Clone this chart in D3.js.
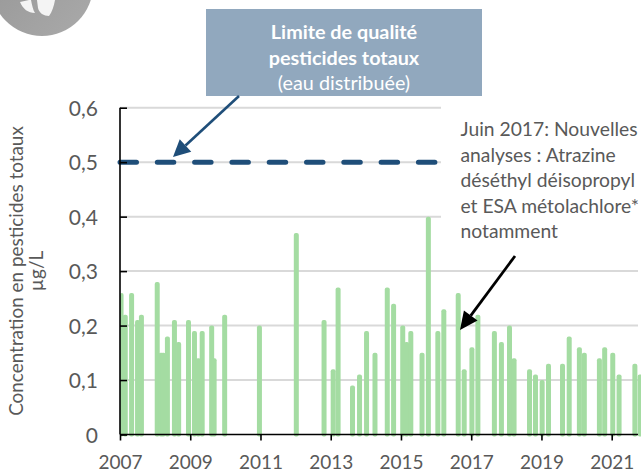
<!DOCTYPE html>
<html><head><meta charset="utf-8">
<script src="https://cdn.jsdelivr.net/npm/d3@7/dist/d3.min.js"></script>
<style>html,body{margin:0;padding:0;background:#fff}svg{display:block}text{font-family:Lato,"Open Sans",sans-serif}</style>
</head><body><svg id="c" width="641" height="474"></svg>
<script>
const sampleDates=[2007.03,2007.15,2007.33,2007.50,2007.61,2008.06,2008.17,2008.23,2008.35,2008.55,2008.67,2008.95,2009.12,2009.23,2009.34,2009.61,2009.68,2009.98,2010.97,2012.02,2012.81,2013.07,2013.21,2013.62,2013.82,2014.02,2014.26,2014.61,2014.79,2015.05,2015.16,2015.28,2015.60,2015.78,2016.05,2016.22,2016.63,2016.80,2017.02,2017.19,2017.66,2017.86,2018.09,2018.22,2018.66,2018.83,2019.02,2019.20,2019.60,2019.79,2020.08,2020.22,2020.65,2020.80,2021.03,2021.21,2021.66,2021.81];
const concentrations=[0.26,0.22,0.26,0.21,0.22,0.28,0.15,0.15,0.18,0.21,0.17,0.21,0.19,0.14,0.19,0.20,0.14,0.22,0.20,0.37,0.21,0.12,0.27,0.09,0.11,0.19,0.15,0.27,0.24,0.20,0.17,0.19,0.15,0.40,0.19,0.23,0.26,0.12,0.16,0.22,0.19,0.17,0.20,0.14,0.12,0.11,0.10,0.13,0.13,0.18,0.16,0.15,0.14,0.16,0.15,0.11,0.13,0.11];
const yTicks=[0,0.1,0.2,0.3,0.4,0.5,0.6];
const xTicks=[2007,2009,2011,2013,2015,2017,2019,2021];
const limitValue=0.5;
const limitBoxLines=["Limite de qualité","pesticides totaux","(eau distribuée)"];
const noteLines=["Juin 2017: Nouvelles","analyses : Atrazine","déséthyl déisopropyl","et ESA métolachlore*","notamment"];
const yTitleLines=["Concentration en pesticides totaux","µg/L"];

const svg=d3.select("#c");
const x=d3.scaleLinear().domain([2007,2021]).range([120,611.7]);
const y=d3.scaleLinear().domain([0,0.6]).range([434.5,107.7]);
const grey="#595959";

// logo
const defs=svg.append("defs");
const lg=defs.append("linearGradient").attr("id","lg").attr("x1",0).attr("y1",0).attr("x2",1).attr("y2",1);
lg.append("stop").attr("offset",0).attr("stop-color","#949494");
lg.append("stop").attr("offset",1).attr("stop-color","#aaaaaa");
svg.append("circle").attr("cx",42).attr("cy",-15).attr("r",51).attr("fill","url(#lg)");
svg.append("path").attr("d","M20 2 L29 0 L31 0 C32 5 33 10 35 13 C28 13 23 9 20 2Z M37 0 L55 0 C54 6 52 12 49 16 C44 16 39 13 38 8Z").attr("fill","#f4f4f4");

// grid
svg.append("g").selectAll("line").data(yTicks.slice(1)).join("line")
 .attr("x1",120).attr("x2",638).attr("y1",d=>y(d)).attr("y2",d=>y(d))
 .attr("stroke","#d9d9d9").attr("stroke-width",2);
// white note background hides upper gridlines
svg.append("rect").attr("x",441).attr("y",100).attr("width",200).attr("height",165).attr("fill","#fff");

// bars
svg.append("g").selectAll("rect").data(sampleDates).join("rect")
 .attr("x",d=>Math.max(x(d)-2.5,120)).attr("width",d=>x(d)-2.5<120?x(d)+2.5-120:5)
 .attr("y",(d,i)=>y(concentrations[i])).attr("height",(d,i)=>y(0)-y(concentrations[i])+2)
 .attr("rx",2).attr("fill","#a4dca2");

// limit line
svg.append("line").attr("x1",x(2007)).attr("x2",439).attr("y1",y(limitValue)).attr("y2",y(limitValue))
 .attr("stroke","#1f4e79").attr("stroke-width",5).attr("stroke-linecap","round")
 .attr("stroke-dasharray","16.5 20.8");

// axes
const yAxis=d3.axisLeft(y).tickValues(yTicks).tickSize(-7).tickPadding(22).tickFormat(d=>d===0?"0":d3.format(".1f")(d).replace(".",","));
const gy=svg.append("g").attr("transform","translate(120,0)").call(yAxis);
const xAxis=d3.axisBottom(x).tickValues(xTicks).tickSize(6).tickPadding(15.5).tickFormat(d3.format("d"));
const gx=svg.append("g").attr("transform","translate(0,434.5)").call(xAxis);
[gy,gx].forEach(g=>{g.selectAll(".domain,.tick line").attr("stroke","#000").attr("stroke-width",1.6);
 g.selectAll("text").attr("fill",grey).attr("font-size",g===gy?21:19);g.select(".domain").attr("d",g===gy?"M0,107.7V434.5":"M120,0H638");});
gy.selectAll("text").attr("dy","0.36em");

// y title
svg.append("g").attr("transform","translate(0,271)").selectAll("text").data(yTitleLines).join("text")
 .attr("transform",(d,i)=>`translate(${i?36.5:17},0) rotate(-90)`).attr("y",6).attr("text-anchor","middle")
 .attr("font-size",18.9).attr("fill",grey).text(d=>d);

// limit box
svg.append("rect").attr("x",206).attr("y",9).attr("width",276).attr("height",87).attr("fill","#91a8be");
svg.append("g").selectAll("text").data(limitBoxLines).join("text")
 .attr("x",344).attr("y",(d,i)=>39+i*25.5).attr("text-anchor","middle").attr("fill","#fff")
 .attr("font-size",19.8).attr("font-weight",(d,i)=>i<2?700:400).text(d=>d);

// arrows
function arrow(x1,y1,x2,y2,col,w,hl,hw){
 const a=Math.atan2(y2-y1,x2-x1),bx=x2-hl*Math.cos(a),by=y2-hl*Math.sin(a),nx=-Math.sin(a),ny=Math.cos(a);
 svg.append("line").attr("x1",x1).attr("y1",y1).attr("x2",bx).attr("y2",by).attr("stroke",col).attr("stroke-width",w);
 svg.append("path").attr("d",`M${x2},${y2}L${bx+nx*hw},${by+ny*hw}L${bx-nx*hw},${by-ny*hw}Z`).attr("fill",col);
}
arrow(239,96,173,157,"#1f4e79",2.6,17,8.5);
arrow(515,256,460,330,"#000",2.8,18,8.5);

// note
svg.append("g").selectAll("text").data(noteLines).join("text")
 .attr("x",460.5).attr("y",(d,i)=>136+i*25.5).attr("fill",grey).attr("font-size",19.3).text(d=>d);
</script></body></html>
